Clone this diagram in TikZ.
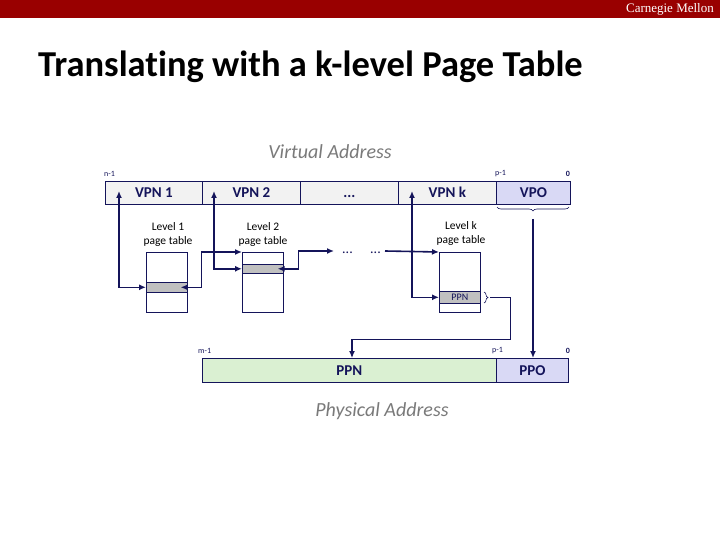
\documentclass[tikz,border=0pt]{standalone}
\usepackage{fontspec}
\setmainfont{Carlito}[Ligatures=NoCommon]
\newfontfamily\cmufont{Liberation Serif}
\usetikzlibrary{arrows.meta,decorations.pathreplacing}
\definecolor{navy}{HTML}{14145A}
\definecolor{cmured}{HTML}{990000}
\definecolor{barfill}{HTML}{F2F2F2}
\definecolor{vpofill}{HTML}{D9D9F5}
\definecolor{ppnfill}{HTML}{DAF0D2}
\definecolor{rowfill}{HTML}{C0C0C0}
\definecolor{addrgray}{HTML}{7A7A7A}
\begin{document}
\begin{tikzpicture}[x=1pt,y=-1pt,
  field/.style={draw=navy, line width=0.8pt, inner sep=0pt, anchor=north west,
    font=\bfseries\fontsize{15}{15}\selectfont, text=navy, text height=10pt, text depth=0pt},
  ptable/.style={draw=navy, line width=0.6pt, fill=white, inner sep=0pt, anchor=north west,
    minimum width=41pt, minimum height=60pt},
  ptrow/.style={draw=navy, line width=0.6pt, fill=rowfill, inner sep=0pt, anchor=north west,
    minimum width=41pt},
  bitlbl/.style={font=\fontsize{8}{8}\selectfont, text=navy, inner sep=0pt},
  tlbl/.style={font=\fontsize{11.5}{14}\selectfont, align=center, inner sep=0pt},
  addr/.style={font=\itshape\fontsize{20}{20}\selectfont, text=addrgray, inner sep=0pt},
  arr/.style={draw=navy, line width=1.6pt, -{Latex[length=7pt,width=6pt]}},
  arrb/.style={draw=navy, line width=1.6pt, {Latex[length=7pt,width=6pt]}-{Latex[length=7pt,width=6pt]}},
  thin/.style={draw=navy, line width=0.9pt},
  brc/.style={draw=navy, line width=0.6pt, decorate, decoration={brace, amplitude=4pt}},
]
\useasboundingbox (0,0) rectangle (720,540);
\fill[white] (0,0) rectangle (720,540);

% header
\fill[cmured] (0,0) rectangle (720,18);
\node[anchor=east, text=white, inner sep=0pt, font=\cmufont\fontsize{13}{13}\selectfont] (cmu) at (714,9) {Carnegie Mellon};

% title
\node[anchor=west, inner sep=0pt, font=\bfseries\fontsize{36.5}{36.5}\selectfont] (title) at (38,67) {Translating with a k-level Page Table};

% virtual address
\node[addr] (va) at (330,152) {Virtual Address};
\node[field, fill=barfill, minimum width=97pt, minimum height=23pt] (vpn1) at (105,181) {VPN 1};
\node[field, fill=barfill, minimum width=98pt, minimum height=23pt] (vpn2) at (202,181) {VPN 2};
\node[field, fill=barfill, minimum width=98pt, minimum height=23pt] (vdots) at (300,181) {...};
\node[field, fill=barfill, minimum width=98pt, minimum height=23pt] (vpnk) at (398,181) {VPN k};
\node[field, fill=vpofill, minimum width=74pt, minimum height=23pt] (vpo) at (496,181) {VPO};
\node[bitlbl, anchor=west] (vn1) at (104,174) {n-1};
\node[bitlbl, anchor=west] (vp1) at (495,174) {p-1};
\node[bitlbl, anchor=east, font=\bfseries\fontsize{8}{8}\selectfont] (v0) at (570,174) {0};

% page tables
\node[tlbl] (l1) at (168,234) {Level 1\\page table};
\node[tlbl] (l2) at (263,234) {Level 2\\page table};
\node[tlbl] (lk) at (461,233) {Level k\\page table};
\node[ptable] (t1) at (146,252) {};
\node[ptable] (t2) at (242,252) {};
\node[ptable] (tk) at (439,252) {};
\node[ptrow, minimum height=10pt] (r1) at (146,282) {};
\node[ptrow, minimum height=9pt] (r2) at (242,264) {};
\node[ptrow, minimum height=12pt, font=\fontsize{10}{10}\selectfont, text=navy] (rk) at (439,291) {PPN};

% tips inside the VPN fields
\coordinate (v1tip) at (119,191);
\coordinate (v2tip) at (214,191);
\coordinate (vktip) at (412,191);

% arrows from VPN fields to table rows
\draw[arrb] (r1.west) -| (v1tip);
\draw[arrb] (r2.west) -| (v2tip);
\draw[arrb] (rk.west) -| (vktip);

% chained table pointers
\draw[arrb] ([xshift=-7pt]r1.east) -- ([xshift=14pt]r1.east) |- (t2.north west);
\coordinate (dA) at (334,251);
\coordinate (dB) at (385,251);
\node[anchor=base west, inner sep=0pt, font=\fontsize{14}{14}\selectfont, text=navy] (dotsA) at (342,254) {...};
\node[anchor=base west, inner sep=0pt, font=\fontsize{14}{14}\selectfont, text=navy] (dotsB) at (370,254) {...};
\draw[arrb] ([xshift=-6pt]r2.east) -- ([xshift=15pt]r2.east) |- (dA);
\draw[arr] (dB) -- (tk.north west);

% physical address
\node[field, fill=ppnfill, minimum width=294pt, minimum height=24pt] (ppn) at (202,358) {PPN};
\node[field, fill=vpofill, minimum width=72pt, minimum height=24pt] (ppo) at (496,358) {PPO};
\node[bitlbl, anchor=west] (pm1) at (198,351) {m-1};
\node[bitlbl, anchor=west] (pp1) at (492,351) {p-1};
\node[bitlbl, anchor=east, font=\bfseries\fontsize{8}{8}\selectfont] (p0) at (570,351) {0};
\node[addr] (pa) at (382,411) {Physical Address};

% braces and final connectors
\draw[brc] (484,292) -- (484,303);
\coordinate (bk) at (490,297.5);
\coordinate (ppntop) at (352,358);
\draw[thin] (bk) -- (510,297.5) -- (510,339) -- (352,339);
\draw[arr, line width=1.2pt] (352,339) -- (ppntop);
\draw[brc] (569,207) -- (497,207);
\coordinate (vpotail) at (533,219);
\draw[arr] (vpotail) -- (vpotail |- ppo.north);
\end{tikzpicture}
\end{document}
